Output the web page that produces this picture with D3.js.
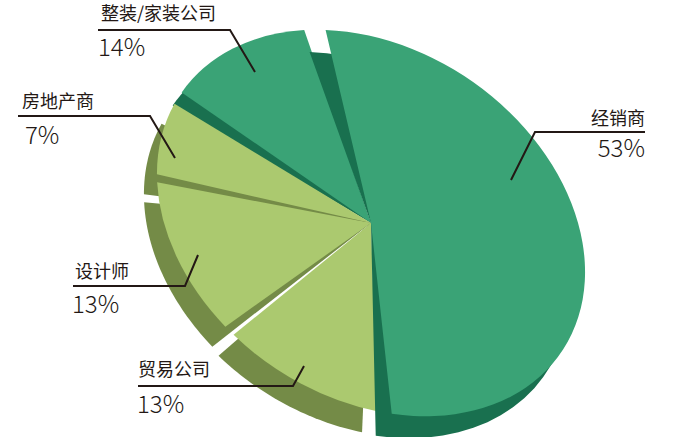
<!DOCTYPE html>
<html>
<head>
<meta charset="utf-8">
<script src="https://cdn.jsdelivr.net/npm/d3@7"></script>
<style>
  html, body { margin: 0; padding: 0; background: #fff; }
  svg { display: block; }
  text { font-family: "Noto Sans CJK SC", "Noto Sans", sans-serif; fill: #231815; }
</style>
</head>
<body>
<svg id="chart" width="674" height="437"></svg>
<script>
// values, clockwise from the big slice
const categories = ['经销商', '贸易公司', '设计师', '房地产商', '整装/家装公司'];
const shares = [53, 13, 13, 7, 14];

// layout
const width = 674, height = 437;
const cx = 371, cy = 223;
const radius = 100;
const stretchX = 2.3, stretchY = 1.74, tilt = 34; // the pie is a tilted ellipse
const startAngle = -41 * Math.PI / 180;
const padAngle = 0.06;

const topColors = ['#3aa376', '#abc96f', '#abc96f', '#abc96f', '#3aa376'];
const sideColors = ['#19704f', '#748b47', '#748b47', '#748b47', '#19704f'];
const sideShift = [[-16, 22], [-15, 21], [-13, 20], [-13, 20], [-9, 13]];
// the original is hand drawn, slice edges sit a few degrees off the true share
const edgeNudge = [[0, 5], [5.5, 2.5], [2, 2], [1, 0.5], [1.5, -2.5]];

// leader: end in the slice, elbow, end of the rule; name and share text positions
const labelLayout = [
  { line: [[511, 180], [535, 132], [645, 132]], name: [645, 125, 'end'], pct: [645, 157, 'end'] },
  { line: [[304, 366], [293, 386], [138, 386]], name: [138, 376, 'start'], pct: [137, 413, 'start'] },
  { line: [[198, 255], [185, 286], [73, 286]], name: [75, 278, 'start'], pct: [72, 313, 'start'] },
  { line: [[175, 158], [150, 116], [18, 116]], name: [22, 108, 'start'], pct: [25, 144, 'start'] },
  { line: [[255, 72], [230, 30], [98, 30]], name: [101, 20, 'start'], pct: [98, 56, 'start'] }
];

const svg = d3.select('#chart');

const pie = d3.pie()
  .sort(null)
  .startAngle(startAngle)
  .endAngle(startAngle + 2 * Math.PI)
  .padAngle(padAngle);

const slices = pie(shares).map((d, i) => ({
  ...d,
  startAngle: d.startAngle + edgeNudge[i][0] * Math.PI / 180,
  endAngle: d.endAngle + edgeNudge[i][1] * Math.PI / 180
}));
const arc = d3.arc().innerRadius(0).outerRadius(radius);

const faceTransform = `translate(${cx},${cy}) rotate(${tilt}) scale(${stretchX},${stretchY})`;

// point on the rim in page coordinates
function rimPoint(a) {
  const x = Math.sin(a) * radius * stretchX;
  const y = -Math.cos(a) * radius * stretchY;
  const t = tilt * Math.PI / 180;
  return [cx + x * Math.cos(t) - y * Math.sin(t), cy + x * Math.sin(t) + y * Math.cos(t)];
}

// side face: same rim moved down-left, apex stays at the centre
function sidePath(d, i) {
  const a0 = d.startAngle + padAngle / 2;
  const a1 = d.endAngle - padAngle / 2;
  const pts = [[cx, cy]];
  d3.range(0, 41).forEach(k => {
    const p = rimPoint(a0 + (a1 - a0) * k / 40);
    pts.push([p[0] + sideShift[i][0], p[1] + sideShift[i][1]]);
  });
  return d3.line()(pts) + 'Z';
}

const order = [4, 3, 2, 1, 0];

order.forEach(i => {
  const d = slices[i];
  svg.append('path')
    .attr('d', sidePath(d, i))
    .attr('fill', sideColors[i]);
  svg.append('path')
    .attr('transform', faceTransform)
    .attr('d', arc(d))
    .attr('fill', topColors[i]);
});

const line = d3.line();

categories.forEach((name, i) => {
  const l = labelLayout[i];
  svg.append('path')
    .attr('d', line(l.line))
    .attr('fill', 'none')
    .attr('stroke', '#231815')
    .attr('stroke-width', 2);
  svg.append('text')
    .attr('x', l.name[0]).attr('y', l.name[1])
    .attr('text-anchor', l.name[2])
    .attr('font-size', 18)
    .text(name);
  svg.append('text')
    .attr('x', l.pct[0]).attr('y', l.pct[1])
    .attr('text-anchor', l.pct[2])
    .attr('font-size', 24)
    .attr('font-weight', 300)
    .text(shares[i] + '%');
});
</script>
</body>
</html>
